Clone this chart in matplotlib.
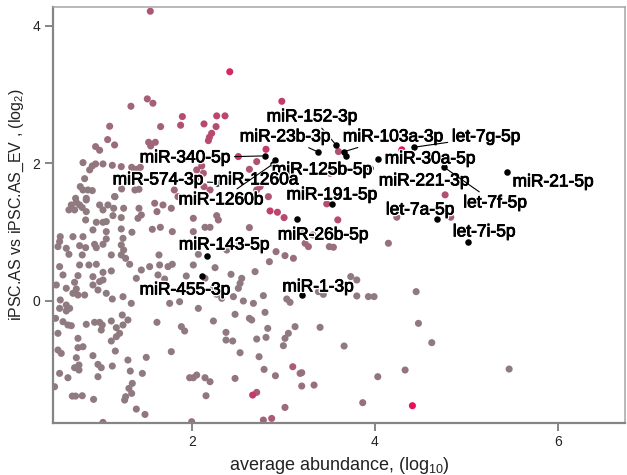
import numpy as np
import matplotlib
matplotlib.use('Agg')
import matplotlib.pyplot as plt
import matplotlib.patheffects as pe

plt.rcParams['font.family'] = ['Liberation Sans', 'DejaVu Sans']
plt.rcParams['mathtext.fontset'] = 'custom'
plt.rcParams['mathtext.rm'] = 'Liberation Sans'
plt.rcParams['mathtext.it'] = 'Liberation Sans:italic'

# %% Data: background miRNAs  [avg abundance (log10), log2 FC, significance 0..1]
bg_points = [
    [1.54, 4.21, 0.35], [2.41, 3.33, 0.75], [2.98, 2.90, 0.6],
    # upper left
    [1.507, 2.935, 0.25], [1.569, 2.872, 0.25], [1.328, 2.828, 0.2], [1.891, 2.678, 0.45],
    [1.872, 2.552, 0.4], [1.095, 2.537, 0.15], [1.653, 2.532, 0.25], [0.941, 2.241, 0.1],
    [1.073, 2.343, 0.15], [1.149, 2.265, 0.15], [0.985, 2.188, 0.1], [1.522, 2.304, 0.2],
    [1.595, 2.304, 0.2], [1.544, 2.251, 0.2], [0.803, 2.008, 0.05], [0.876, 1.902, 0.05],
    [0.941, 1.989, 0.05], [0.905, 1.960, 0.05], [1.022, 1.989, 0.05], [1.124, 1.969, 0.1],
    [1.222, 1.950, 0.1], [1.336, 1.940, 0.1], [1.387, 1.911, 0.1], [1.431, 1.940, 0.1],
    [0.821, 1.775, 0.0], [0.773, 1.659, 0.0], [0.803, 1.610, 0.0], [0.857, 1.610, 0.0],
    [0.905, 1.601, 0.0], [1.277, 1.790, 0.05], [1.431, 1.756, 0.1], [1.226, 1.625, 0.05],
    [1.372, 1.610, 0.05], [1.416, 1.620, 0.05], [1.153, 1.513, 0.0], [0.722, 1.489, 0.0],
    [0.839, 1.489, 0.0], [1.803, 1.610, 0.2], [1.843, 1.513, 0.2],
    # upper middle
    [2.267, 2.688, 0.5], [2.358, 2.688, 0.5], [2.128, 2.571, 0.45], [2.260, 2.532, 0.45],
    [2.212, 2.435, 0.45], [2.187, 2.377, 0.45], [2.176, 2.328, 0.4], [2.807, 2.202, 0.6],
    [2.504, 2.096, 0.65], [2.705, 2.023, 0.4], [2.103, 1.960, 0.35], [2.048, 1.902, 0.3],
    [2.121, 1.853, 0.3], [2.048, 1.795, 0.3], [2.625, 1.911, 0.35], [2.128, 1.659, 0.3],
    [2.194, 1.610, 0.3], [2.705, 1.610, 0.35], [2.742, 1.659, 0.35], [2.833, 1.513, 0.35],
    # middle left
    [0.675, 1.392, 0.0], [0.730, 1.431, 0.0], [0.766, 1.392, 0.0], [0.839, 1.465, 0.0],
    [0.649, 1.320, 0.0], [0.711, 1.320, 0.0], [0.795, 1.354, 0.0], [0.839, 1.295, 0.0],
    [0.985, 1.392, 0.0], [1.022, 1.320, 0.0], [1.076, 1.392, 0.0], [1.139, 1.344, 0.0],
    [1.149, 1.514, 0.0], [1.131, 1.237, 0.0], [1.248, 1.344, 0.0], [1.416, 1.344, 0.05],
    [1.442, 1.247, 0.05], [1.405, 1.198, 0.05], [1.588, 1.417, 0.1], [1.679, 1.392, 0.1],
    [1.613, 1.295, 0.1], [1.770, 1.344, 0.1], [0.832, 1.174, 0.0], [0.949, 1.140, 0.0],
    [1.022, 1.140, 0.0], [1.058, 1.150, 0.0], [1.222, 1.208, 0.0], [0.912, 1.029, 0.0],
    [1.058, 1.004, 0.0], [1.222, 1.043, 0.0], [1.339, 0.995, 0.0], [1.562, 1.038, 0.05],
    [1.650, 1.067, 0.05], [1.781, 1.004, 0.05], [0.554, 0.931, 0.0], [0.693, 0.931, 0.0],
    [0.803, 0.931, 0.0], [1.058, 0.898, 0.0], [0.529, 0.786, 0.0], [0.547, 0.859, 0.0],
    [0.620, 0.762, 0.0], [0.649, 0.674, 0.0], [0.766, 0.800, 0.0], [0.832, 0.771, 0.0],
    [0.795, 0.665, 0.0], [0.930, 0.820, 0.0], [0.949, 0.771, 0.0], [1.022, 0.820, 0.0],
    [1.222, 0.810, 0.0], [1.248, 0.737, 0.0], [1.222, 0.665, 0.0], [1.270, 0.616, 0.0],
    [1.113, 0.665, 0.0], [1.241, 0.907, 0.0], [0.949, 0.529, 0.0], [1.113, 0.432, 0.0],
    [1.314, 0.529, 0.0], [1.635, 0.665, 0.0], [1.642, 0.519, 0.0], [1.734, 0.495, 0.0],
    [1.781, 0.529, 0.0], [1.442, 0.446, 0.0], [1.533, 0.495, 0.0], [0.547, 0.495, 0.0],
    [0.766, 0.519, 0.0], [0.868, 0.519, 0.0], [1.022, 0.412, 0.0], [0.584, 0.374, 0.0],
    [0.711, 0.267, 0.0], [0.748, 0.364, 0.0], [0.912, 0.349, 0.0], [0.985, 0.277, 0.0],
    [1.022, 0.301, 0.0], [1.387, 0.325, 0.0], [1.624, 0.374, 0.0], [1.697, 0.315, 0.0],
    [1.934, 0.359, 0.0], [0.511, 0.228, 0.0], [0.620, 0.180, 0.0], [0.693, 0.107, 0.0],
    [0.730, 0.170, 0.0], [0.748, 0.082, 0.0], [0.821, 0.082, 0.0], [0.912, 0.228, 0.0],
    [0.967, 0.155, 0.0], [1.058, 0.107, 0.0], [1.124, 0.024, 0.0], [1.241, 0.058, 0.0],
    [1.332, -0.039, 0.0], [1.569, 0.131, 0.0], [1.752, -0.039, 0.0], [1.861, -0.015, 0.0],
    [0.554, 0.010, 0.0], [0.620, -0.063, 0.0],
    # lower left
    [0.547, -0.112, 0.0], [0.620, -0.150, 0.0], [0.657, -0.112, 0.0], [0.503, -0.257, 0.0],
    [0.584, -0.306, 0.0], [0.638, -0.354, 0.0], [0.675, -0.364, 0.0], [0.529, -0.475, 0.0],
    [0.839, -0.344, 0.0], [0.930, -0.315, 0.0], [0.985, -0.315, 0.0], [1.014, -0.354, 0.0],
    [1.003, -0.427, 0.0], [1.113, -0.296, 0.0], [1.168, -0.393, 0.0], [1.233, -0.209, 0.0],
    [1.295, -0.281, 0.0], [1.241, -0.354, 0.0], [1.204, -0.475, 0.0], [1.168, -0.524, 0.0],
    [1.113, -0.587, 0.0], [1.613, -0.315, 0.0], [1.880, -0.378, 0.0], [1.916, -0.441, 0.0],
    [0.748, -0.548, 0.0], [0.748, -0.684, 0.0], [0.803, -0.670, 0.0], [0.529, -0.718, 0.0],
    [0.565, -0.767, 0.0], [0.912, -0.800, 0.0], [1.157, -0.733, 0.0], [0.730, -0.830, 0.0],
    [0.711, -0.975, 0.0], [0.759, -0.936, 0.0], [0.759, -1.009, 0.0], [0.967, -0.927, 0.0],
    [1.003, -0.975, 0.0], [1.124, -0.951, 0.0], [1.295, -0.864, 0.0], [1.496, -0.825, 0.0],
    [1.770, -0.742, 0.0], [0.547, -1.058, 0.0], [0.638, -1.121, 0.0], [0.967, -1.106, 0.0],
    [1.321, -1.024, 0.0], [1.453, -1.058, 0.0], [0.492, -1.252, 0.0], [1.343, -1.203, 0.0],
    [1.306, -1.276, 0.0], [1.336, -1.349, 0.0], [1.270, -1.397, 0.0], [1.259, -1.446, 0.0],
    [0.686, -1.388, 0.0], [0.722, -1.388, 0.0], [0.795, -1.383, 0.0], [0.919, -1.436, 0.0],
    [1.387, -1.577, 0.05], [1.482, -1.655, 0.05], [1.971, -1.121, 0.05], [1.022, -1.771, 0.1],
    # middle
    [2.851, 1.305, 0.55], [2.932, 1.286, 0.5], [3.005, 1.208, 0.45], [2.011, 1.198, 0.1],
    [2.267, 1.237, 0.1], [2.285, 1.174, 0.1], [2.139, 1.067, 0.05], [2.194, 1.067, 0.05],
    [2.625, 1.063, 0.1], [2.011, 1.004, 0.05], [2.515, 0.820, 0.05], [2.377, 0.737, 0.05],
    [2.917, 0.713, 0.1], [3.015, 0.655, 0.1], [3.107, 0.616, 0.1], [2.844, 0.567, 0.05],
    [3.235, 0.834, 0.15], [3.271, 0.786, 0.15], [3.216, 1.004, 0.2], [3.319, 0.956, 0.2],
    [2.066, 0.674, 0.0], [2.011, 0.519, 0.0], [2.249, 0.480, 0.0], [2.687, 0.422, 0.0],
    [2.424, 0.383, 0.0], [2.541, 0.325, 0.0], [2.523, 0.252, 0.0], [2.504, 0.180, 0.0],
    [2.139, 0.325, 0.0], [2.231, 0.180, 0.0], [2.267, 0.092, 0.0], [2.322, 0.034, 0.0],
    [2.450, 0.058, 0.0], [2.559, -0.005, 0.0], [2.778, 0.073, 0.0], [2.669, -0.039, 0.0],
    [3.034, 0.024, 0.0], [3.070, -0.024, 0.0], [3.381, 0.131, 0.0], [3.435, 0.092, 0.0],
    # lower middle
    [2.066, -0.112, 0.0], [2.231, -0.296, 0.0], [2.468, -0.199, 0.0], [2.625, -0.257, 0.0],
    [2.650, -0.281, 0.0], [2.796, -0.170, 0.0], [2.826, -0.403, 0.0], [2.807, -0.534, 0.0],
    [2.705, -0.558, 0.0], [2.369, -0.461, 0.0], [2.369, -0.573, 0.0], [2.442, -0.587, 0.0],
    [2.523, -0.757, 0.0], [2.731, -0.815, 0.0], [3.052, -0.475, 0.0], [3.015, -0.548, 0.0],
    [2.997, -0.655, 0.0], [3.125, -0.378, 0.0], [3.399, -0.388, 0.0], [2.786, -1.000, 0.05],
    [2.910, -1.092, 0.05], [3.100, -0.961, 0.3], [3.180, -1.058, 0.1], [3.198, -1.048, 0.1],
    [3.198, -1.242, 0.1], [3.333, -1.228, 0.1], [2.011, -1.121, 0.05], [2.048, -1.082, 0.05],
    [2.139, -1.121, 0.05], [2.194, -1.179, 0.05], [2.468, -1.131, 0.05], [2.150, -1.383, 0.05],
    [2.661, -1.373, 0.6], [2.705, -1.334, 0.3], [3.015, -1.553, 0.15], [2.778, -1.737, 0.2],
    [2.869, -1.713, 0.3], [1.993, -1.761, 0.1],
    # right
    [4.294, 2.194, 1.0], [4.184, 2.097, 0.4], [3.600, 2.169, 0.4], [4.768, 1.539, 0.4],
    [3.593, 1.175, 0.45], [4.239, 1.214, 0.15], [4.830, 1.214, 0.3], [3.545, 0.981, 0.1],
    [3.472, 1.408, 0.45], [3.509, 1.854, 0.5],
    [4.147, 0.835, 0.1], [3.545, 0.777, 0.1], [3.500, 0.786, 0.1], [3.735, 0.350, 0.0],
    [3.801, 0.301, 0.0], [3.801, 0.068, 0.0], [3.928, 0.059, 0.0], [3.990, 0.059, 0.0],
    [4.451, 0.131, 0.0], [4.476, -0.330, 0.0], [3.662, -0.660, 0.0], [4.622, -0.611, 0.0],
    [4.330, -1.009, 0.05], [4.031, -1.106, 0.05], [5.469, -0.995, 0.0], [3.866, -1.484, 0.1],
    [4.410, -1.528, 1.0],
]

# %% Data: labelled miRNAs
lab_names = ['miR-152-3p', 'miR-23b-3p', 'miR-103a-3p', 'let-7g-5p', 'miR-340-5p',
             'miR-125b-5p', 'miR-30a-5p', 'miR-574-3p', 'miR-1260a', 'miR-221-3p',
             'miR-21-5p', 'miR-1260b', 'miR-191-5p', 'let-7f-5p', 'let-7a-5p',
             'miR-26b-5p', 'let-7i-5p', 'miR-143-5p', 'miR-455-3p', 'miR-1-3p']
lab_x = [3.574, 3.381, 3.666, 4.429, 2.796, 3.684, 4.038, 2.274, 2.905, 3.947,
         5.444, 2.886, 3.527, 4.757, 4.677, 3.151, 5.020, 2.165, 2.103, 3.198]
lab_y = [2.266, 2.160, 2.169, 2.232, 2.106, 2.106, 2.063, 1.718, 2.048, 1.927,
         1.878, 1.990, 1.408, 1.941, 1.184, 1.184, 0.850, 0.655, 0.364, 0.082]
text_x = [3.311, 3.015, 4.198, 5.216, 1.920, 3.421, 4.604, 1.624, 2.698, 4.538,
          5.951, 2.314, 3.530, 5.315, 4.494, 3.432, 5.195, 2.349, 1.920, 3.377]
text_y = [2.674, 2.383, 2.383, 2.383, 2.078, 1.903, 2.063, 1.757, 1.757, 1.742,
          1.728, 1.466, 1.539, 1.422, 1.320, 0.956, 1.000, 0.811, 0.156, 0.200]
has_line = [1, 1, 1, 1, 1, 0, 0, 1, 0, 0,
            0, 1, 0, 1, 0, 0, 0, 0, 0, 0]

# %% Figure
WinWidth = 627
WinHeight = 475
DPI = 100

bg = np.array(bg_points)
bg_x, bg_y, bg_sig = bg[:, 0], bg[:, 1], bg[:, 2]

GrayCol = np.array([143, 122, 128]) / 255.
RedCol = np.array([232, 17, 90]) / 255.
cols = GrayCol[None, :] * (1 - bg_sig[:, None]) + RedCol[None, :] * bg_sig[:, None]
order = np.argsort(bg_sig)

fig = plt.figure(figsize=(WinWidth/DPI, WinHeight/DPI), dpi=DPI)
ax = fig.add_axes([0.084, 0.110, 0.913, 0.875])

ax.scatter(bg_x[order], bg_y[order], s=26, c=cols[order], linewidths=0, zorder=2)
ax.scatter(lab_x, lab_y, s=22, c='black', linewidths=0, zorder=4)

halo = [pe.withStroke(linewidth=2.5, foreground='white'),
        pe.withStroke(linewidth=0.6, foreground='black')]
for ii in range(len(lab_names)):
    if has_line[ii]:
        ax.annotate(lab_names[ii], xy=(lab_x[ii], lab_y[ii]), xytext=(text_x[ii], text_y[ii]),
                    ha='center', va='center', fontsize=12.5, color='black', zorder=5,
                    path_effects=halo,
                    arrowprops=dict(arrowstyle='-', color='black', lw=0.8,
                                    shrinkA=1, shrinkB=2))
    else:
        ax.text(text_x[ii], text_y[ii], lab_names[ii], ha='center', va='center',
                fontsize=12.5, color='black', zorder=5, path_effects=halo)

ax.set_xlim(0.471, 6.739)
ax.set_ylim(-1.776, 4.27)
ax.set_xticks([2, 4, 6])
ax.set_yticks([0, 2, 4])

for s in ['left', 'bottom']:
    ax.spines[s].set_color('#858585')
    ax.spines[s].set_linewidth(1.6)
for s in ['top', 'right']:
    ax.spines[s].set_color('#a5a5a5')
    ax.spines[s].set_linewidth(1.1)
ax.tick_params(axis='both', colors='#858585', length=6, width=1.4, labelsize=10,
               labelcolor='#222222', pad=3)

ax.set_xlabel(r'average abundance, (log$_{10}$)', fontsize=13, color='#222222', labelpad=4)
ax.set_ylabel(r'iPSC.AS vs iPSC.AS_EV , (log$_2$)', fontsize=11.5, color='#222222')
ax.yaxis.set_label_coords(-0.047, 0.524)

fig.savefig('out.png', dpi=DPI)
